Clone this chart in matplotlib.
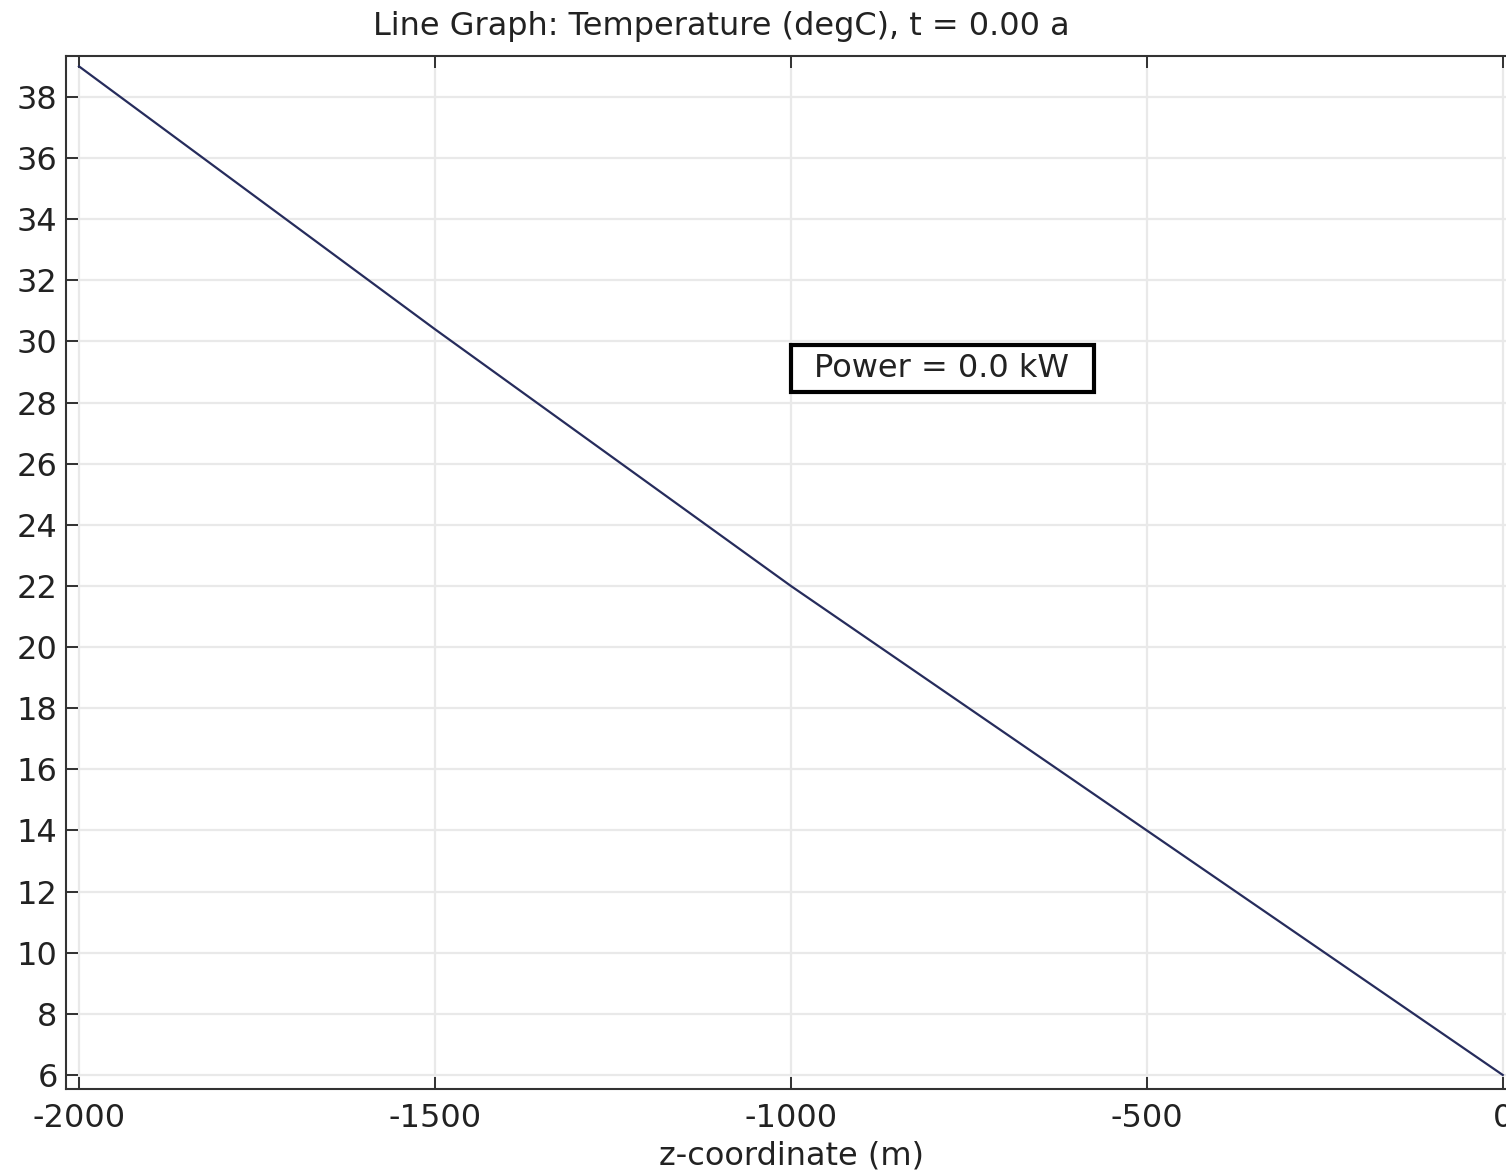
import matplotlib
matplotlib.use("Agg")
import matplotlib.pyplot as plt
from matplotlib.patches import Rectangle

plt.rcParams["axes.unicode_minus"] = False

# temperature profile along depth
z_m = [-2000, -1500, -1000, -500, 0]
temp_c = [39.0, 30.4, 22.0, 14.0, 6.0]

x_ticks = [-2000, -1500, -1000, -500, 0]
y_ticks = list(range(6, 40, 2))

title = "Line Graph: Temperature (degC), t = 0.00 a"
xlabel = "z-coordinate (m)"
note = "Power = 0.0 kW"

fs = 23
txt = "#222222"

fig = plt.figure(figsize=(15.06, 11.71), dpi=100)
# axes runs past the right edge of the figure, like the cropped original
ax = fig.add_axes([0.0438, 0.0700, 0.9635, 0.8822])

ax.plot(z_m, temp_c, color="#262c5c", linewidth=1.6)

ax.set_xlim(-2018.3, 20)
ax.set_ylim(5.54, 39.34)
ax.set_xticks(x_ticks)
ax.set_yticks(y_ticks)
ax.grid(True, color="#e9e9e9", linewidth=1.6)
ax.set_axisbelow(True)

ax.tick_params(direction="in", length=8.5, width=1.3, top=True, right=False,
               labelsize=fs, colors=txt, pad=6)
ax.tick_params(axis="x", pad=10)
for s in ax.spines.values():
    s.set_color("#333333")
    s.set_linewidth(1.5)

fig.text(0.479, 1 - 26 / 1171, title, fontsize=fs, ha="center", va="center", color=txt)
ax.set_xlabel(xlabel, fontsize=fs, color=txt)
ax.xaxis.set_label_coords(0.4997, -0.05)

# annotation box
ax.add_patch(Rectangle((0.4997, 0.6747), 0.2088, 0.0455, transform=ax.transAxes,
                       facecolor="white", edgecolor="black", linewidth=3, zorder=4))
ax.text(0.6037, 0.6975, note, transform=ax.transAxes, fontsize=fs,
        ha="center", va="center", color=txt, zorder=5)

fig.savefig("out.png", dpi=100)
